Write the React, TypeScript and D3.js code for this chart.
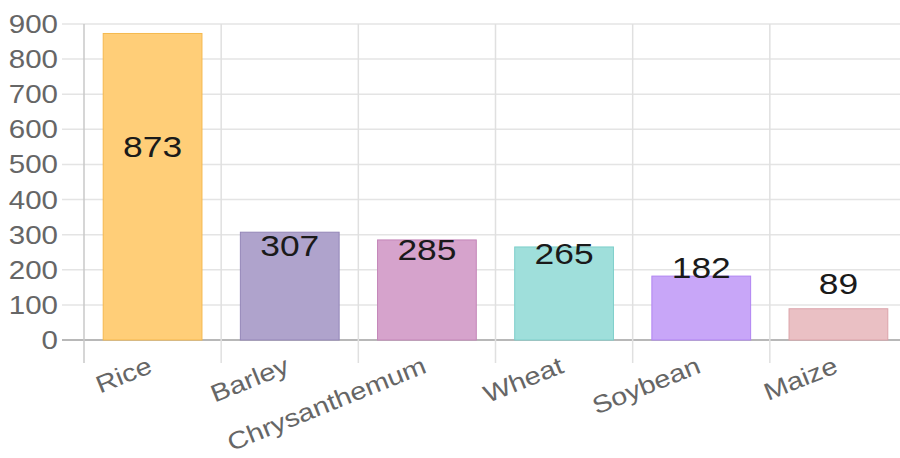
import React from "react";
import * as d3 from "d3";

const categories = ["Rice", "Barley", "Chrysanthemum", "Wheat", "Soybean", "Maize"];
const values = [873, 307, 285, 265, 182, 89];
const fills = ["#FFCE78", "#AFA3CC", "#D6A3CC", "#9FDFDB", "#C8A6F8", "#EAC0C4"];
const strokes = ["#F5B94E", "#9486B8", "#C486B8", "#7FCFCB", "#B084F2", "#DCA4AA"];
const yTicks = [0, 100, 200, 300, 400, 500, 600, 700, 800, 900];

const W = 900;
const H = 458;
const left = 84;
const right = 907;
const top = 24;
const bottom = 340;
const SX = 1.18;

export default function App() {
  const x = d3.scaleBand<string>().domain(categories).range([left, right]).paddingInner(0).paddingOuter(0);
  const y = d3.scaleLinear().domain([0, 900]).range([bottom, top]);
  const bw = x.bandwidth() * 0.72;
  const font = "'Liberation Sans', Arial, sans-serif";
  const boundaries = categories.map((c) => x(c) as number).concat([right]);

  return (
    <svg width={W} height={H} style={{ position: "absolute", left: 0, top: 0, background: "#fff" }}>
      <rect x={0} y={0} width={W} height={H} fill="#fff" />
      {yTicks.map((t) => (
        <line key={"h" + t} x1={62} x2={right} y1={y(t)} y2={y(t)} stroke={t === 0 ? "#b8b8b8" : "#e4e4e4"} strokeWidth={t === 0 ? 2 : 1.5} />
      ))}
      {boundaries.map((bx, i) => (
        <line key={"v" + i} x1={bx} x2={bx} y1={top} y2={363} stroke={i === 0 ? "#c8c8c8" : "#e0e0e0"} strokeWidth={1.5} />
      ))}
      {yTicks.map((t) => (
        <text key={"yl" + t} transform={`translate(58,${y(t) + 9}) scale(${SX},1)`} textAnchor="end" fontFamily={font} fontSize={25} fill="#666">
          {t}
        </text>
      ))}
      {categories.map((c, i) => {
        const cx = (x(c) as number) + x.bandwidth() / 2;
        return (
          <rect key={"b" + c} x={cx - bw / 2} y={y(values[i])} width={bw} height={bottom - y(values[i])} fill={fills[i]} stroke={strokes[i]} strokeWidth={1} />
        );
      })}
      {categories.map((c, i) => {
        const cx = (x(c) as number) + x.bandwidth() / 2;
        const cy = (y(values[i]) + y(233)) / 2;
        return (
          <text key={"vl" + c} transform={`translate(${cx},${cy + 11}) scale(${SX},1)`} textAnchor="middle" fontFamily={font} fontSize={30} fill="#1a1a1a">
            {values[i]}
          </text>
        );
      })}
      {categories.map((c) => {
        const cx = (x(c) as number) + x.bandwidth() / 2;
        return (
          <text key={"xl" + c} transform={`translate(${cx + 1},${372}) rotate(-22) scale(1.18,1)`} textAnchor="end" fontFamily={font} fontSize={24.5} fill="#666">
            {c}
          </text>
        );
      })}
    </svg>
  );
}
